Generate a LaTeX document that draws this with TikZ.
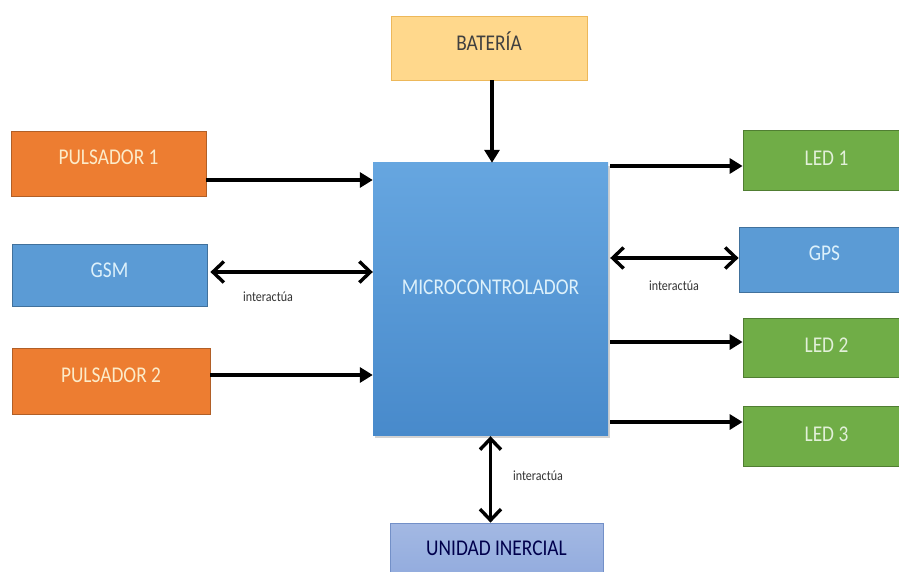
\documentclass[tikz,border=0pt]{standalone}
\usepackage{fontspec}
\setmainfont{Carlito}[FakeStretch=0.86]
\usetikzlibrary{arrows.meta,shadows}

\definecolor{naranja}{HTML}{ED7D31}
\definecolor{naranjaborde}{HTML}{B15F27}
\definecolor{azul}{HTML}{5B9BD5}
\definecolor{azulborde}{HTML}{41719C}
\definecolor{azularriba}{HTML}{66A6E0}
\definecolor{azulabajo}{HTML}{488ACB}
\definecolor{verde}{HTML}{70AD47}
\definecolor{verdeborde}{HTML}{507E32}
\definecolor{amarillo}{HTML}{FFD88C}
\definecolor{amarilloborde}{HTML}{EDB85A}
\definecolor{lila}{HTML}{93ACDE}
\definecolor{lilaborde}{HTML}{7390C8}
\definecolor{crema}{HTML}{FCEBC9}
\definecolor{celeste}{HTML}{DDF1FB}
\definecolor{verdeclaro}{HTML}{E2F0D9}

\begin{document}
\begin{tikzpicture}[x=1pt,y=-1pt,
    every node/.style={font=\fontsize{22.5}{24}\selectfont,text centered,inner sep=0pt},
    bloque/.style={rectangle,draw,line width=0.8pt},
    pulsador/.style={bloque,fill=naranja,draw=naranjaborde,text=crema,minimum width=195pt,minimum height=65pt},
    modulo/.style={bloque,fill=azul,draw=azulborde,text=celeste,minimum width=195pt,minimum height=62pt},
    ledbox/.style={bloque,fill=verde,draw=verdeborde,text=verdeclaro,minimum width=167pt,minimum height=60pt,text depth=4pt},
    etiqueta/.style={font=\fontsize{14}{15}\selectfont,text=black!80},
    flecha/.style={line width=3.4pt,-{Triangle[length=13pt,width=15pt]}},
    doble/.style={line width=3.4pt,{Straight Barb[length=11pt,width=21pt]}-{Straight Barb[length=11pt,width=21pt]}}
    ]

    \useasboundingbox[fill=white] (0,0) rectangle (899,572);

    % bloque central
    \node[rectangle,minimum width=235pt,minimum height=272pt,top color=azularriba,bottom color=azulabajo,
          drop shadow={shadow xshift=2pt,shadow yshift=-3pt,opacity=.35},text=celeste,text depth=24pt] (micro) at (490.5,299) {MICROCONTROLADOR};
    \node[bloque,fill=amarillo,draw=amarilloborde,text=black!75,minimum width=196pt,minimum height=64pt,text depth=14pt] (bat) at (489,48) {BATERÍA};
    \node[bloque,top color=lila!85!white,bottom color=lila,draw=lilaborde,text=blue!30!black,minimum width=213pt,minimum height=51pt,below of=micro,node distance=249.5pt,xshift=6pt] (imu) {UNIDAD INERCIAL};

    % entradas
    \node[pulsador,text depth=12pt] (p1) at (108.5,163.5) {PULSADOR 1};
    \node[modulo,text depth=10pt,below of=p1,node distance=112pt,xshift=1pt] (gsm) {GSM};
    \node[pulsador,text depth=11pt,below of=gsm,node distance=105.5pt,xshift=1.5pt,minimum width=198pt,minimum height=66pt] (p2) {PULSADOR 2};

    % salidas
    \node[ledbox] (led1) at (826.5,160.5) {LED 1};
    \node[modulo,text depth=12pt,minimum width=171pt,minimum height=65pt,below of=led1,node distance=99pt,xshift=-2pt] (gps) {GPS};
    \node[ledbox,minimum height=59pt,below of=gps,node distance=88pt,xshift=2pt] (led2) {LED 2};
    \node[ledbox,below of=led2,node distance=88.5pt] (led3) {LED 3};

    % conexiones
    \draw[flecha] ([xshift=3pt]bat.south) -- ([xshift=3pt]bat.south |- micro.north);
    \draw[flecha] ([yshift=-16.5pt]p1.east) -- ([yshift=-16.5pt]p1.east -| micro.west);
    \draw[doble,shorten <=3pt] ([yshift=3.5pt]gsm.east) -- ([yshift=3.5pt]gsm.east -| micro.west);
    \draw[flecha] ([yshift=6pt]p2.east) -- ([yshift=6pt]p2.east -| micro.west);
    \draw[flecha,shorten <=2pt] ([yshift=-5.5pt]led1.west -| micro.east) -- ([yshift=-5.5pt]led1.west);
    \draw[doble,shorten <=2pt] ([yshift=1.5pt]gps.west -| micro.east) -- ([yshift=1.5pt]gps.west);
    \draw[flecha,shorten <=2pt] ([yshift=5.5pt]led2.west -| micro.east) -- ([yshift=5.5pt]led2.west);
    \draw[flecha,shorten <=2pt] ([yshift=14pt]led3.west -| micro.east) -- ([yshift=14pt]led3.west);
    \draw[doble,shorten <=1pt] (micro.south) -- (micro.south |- imu.north);

    \node[etiqueta] (lbl1) at (268,297) {interactúa};
    \node[etiqueta] (lbl2) at (674,286) {interactúa};
    \node[etiqueta] (lbl3) at (538,476) {interactúa};
  \end{tikzpicture}
\end{document}
